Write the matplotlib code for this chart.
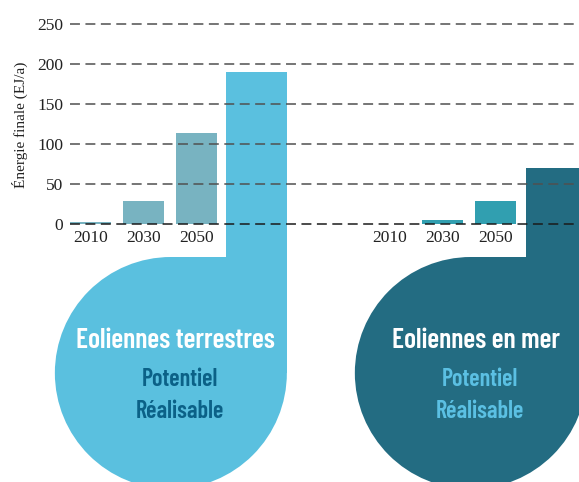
import matplotlib
matplotlib.use('agg')
import matplotlib.pyplot as plt
from matplotlib.patches import Circle, Rectangle

# data (EJ/a)
years = ['2010', '2030', '2050']
terrestre = [2, 29, 114]
terrestre_potentiel = 190
mer = [0, 5, 29]
mer_potentiel = 70

titles = ['Eoliennes terrestres', 'Eoliennes en mer']
sub_lines = ['Potentiel', 'Réalisable']

# positions (in units of bar spacing)
pos_terre = [0, 1, 2]
pos_mer = [5.64, 6.64, 7.64]
pos_pot = [3.13, 8.79]
bar_w = 0.774
pot_w = 1.15
pot_bottom = -45

c_terre_small = '#78b3c1'
c_terre_big = '#5ac0df'
c_mer_small = '#319fb0'
c_mer_big = '#236c82'
c_sub = ['#0b6187', '#5bc0e3']

W, H = 579, 482
fig = plt.figure(figsize=(W / 100, H / 100), dpi=100)

# background axes in pixel coords for the drop shapes
bg = fig.add_axes([0, 0, 1, 1], zorder=0)
bg.set_xlim(0, W)
bg.set_ylim(H, 0)
bg.axis('off')

ax = fig.add_axes([70 / W, 1 - 224 / H, 509 / W, 200 / H], zorder=1)
ax.patch.set_alpha(0)
ax.set_xlim((70 - 90.5) / 53, (579 - 90.5) / 53)
ax.set_ylim(0, 250)

ax.bar(pos_terre, terrestre, width=bar_w, color=c_terre_small, zorder=1)
ax.bar(pos_mer, mer, width=bar_w, color=c_mer_small, zorder=1)
pots = [terrestre_potentiel, mer_potentiel]
big_cols = [c_terre_big, c_mer_big]
for p, v, c in zip(pos_pot, pots, big_cols):
    ax.bar(p, v - pot_bottom, bottom=pot_bottom, width=pot_w, color=c,
           clip_on=False, zorder=1)

# dashed grid on top of bars
for yv in [50, 100, 150, 200, 250]:
    ax.axhline(yv, color='#505050', lw=1.1, ls=(0, (6.5, 3.6)), zorder=3, clip_on=False)
ax.axhline(0, color='#1a1a1a', lw=1.1, ls=(0, (6.5, 3.6)), zorder=3, clip_on=False)

for s in ax.spines.values():
    s.set_visible(False)
ax.set_yticks([0, 50, 100, 150, 200, 250])
ax.set_xticks(pos_terre + pos_mer)
ax.set_xticklabels(years + years)
ax.tick_params(length=0, labelsize=12.5, colors='#222222')
ax.tick_params(axis='y', pad=5)
ax.tick_params(axis='x', pad=4)
for lab in ax.get_xticklabels() + ax.get_yticklabels():
    lab.set_family(['Liberation Serif', 'DejaVu Serif'])

fig.text(20 / W, 1 - 125 / H, 'Énergie finale (EJ/a)', rotation=90,
         ha='center', va='center', fontsize=11,
         family=['Liberation Serif', 'DejaVu Serif'], color='#222222')

# drop shapes below the big bars
r = 116
cy = 373
to_bg = ax.transData + bg.transData.inverted()
cond = ['Barlow Condensed', 'DejaVu Sans']
for i, (p, c) in enumerate(zip(pos_pot, big_cols)):
    right = to_bg.transform((p + pot_w / 2, 0))[0]
    cx = right - r
    bg.add_patch(Circle((cx, cy), r, color=c, lw=0))
    bg.add_patch(Rectangle((cx, cy - r), r, r, color=c, lw=0))
    bg.text(cx + 5, cy - 33, titles[i], ha='center', va='center', color='white',
            fontsize=20, weight=600, family=cond)
    bg.text(cx + 9, cy + 7, sub_lines[0], ha='center', va='center', color=c_sub[i],
            fontsize=17.5, weight=600, family=cond)
    bg.text(cx + 9, cy + 38, sub_lines[1], ha='center', va='center', color=c_sub[i],
            fontsize=17.5, weight=600, family=cond)

fig.savefig('out.png', dpi=100)
